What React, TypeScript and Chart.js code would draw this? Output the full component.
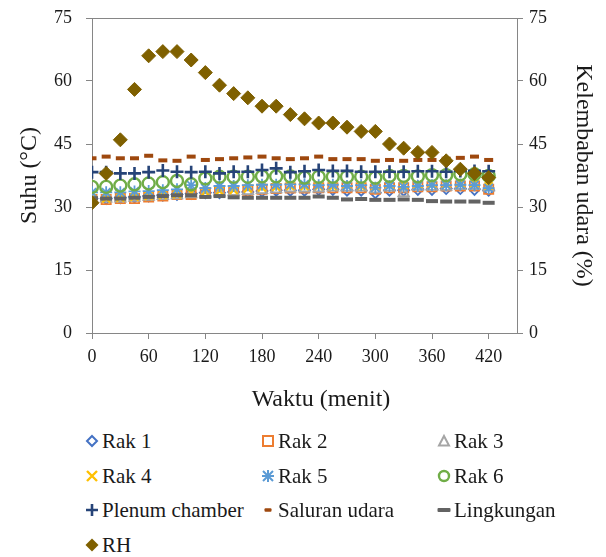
import React, { useEffect, useRef } from 'react';
import { Chart, registerables } from 'chart.js';

Chart.register(...registerables);

const TIME = [0, 15, 30, 45, 60, 75, 90, 105, 120, 135, 150, 165, 180, 195, 210, 225, 240, 255, 270, 285, 300, 315, 330, 345, 360, 375, 390, 405, 420];
const X_TICKS = [0, 60, 120, 180, 240, 300, 360, 420];
const Y_TICKS = [0, 15, 30, 45, 60, 75];

const RAK1 = [32.0, 32.0, 32.2, 32.4, 32.6, 32.8, 33.0, 33.2, 33.4, 33.4, 33.6, 33.6, 33.8, 34.0, 34.0, 34.0, 34.2, 34.2, 34.0, 34.0, 33.4, 34.0, 34.0, 34.2, 34.2, 34.4, 34.4, 34.2, 34.0];
const RAK2 = [31.8, 31.8, 32.0, 32.0, 32.4, 32.6, 33.0, 33.0, 33.4, 33.6, 33.8, 34.0, 34.2, 34.4, 34.5, 34.5, 34.6, 34.6, 34.6, 34.6, 34.2, 34.6, 34.6, 34.8, 34.8, 35.0, 35.0, 35.0, 34.2];
const RAK3 = [32.0, 32.0, 32.0, 32.2, 32.4, 32.6, 32.8, 33.0, 33.2, 33.4, 33.6, 33.8, 34.0, 34.2, 34.4, 34.4, 34.4, 34.6, 34.6, 34.6, 34.2, 34.6, 33.3, 34.8, 34.8, 34.8, 35.0, 35.0, 34.6];
const RAK4 = [32.0, 32.0, 32.2, 32.4, 32.6, 32.8, 33.0, 33.4, 33.6, 33.8, 34.0, 34.4, 34.6, 34.8, 35.0, 35.0, 35.0, 35.0, 35.2, 35.0, 34.8, 35.2, 35.2, 35.4, 35.4, 35.4, 35.6, 35.6, 35.0];
const RAK5 = [33.5, 33.5, 33.5, 33.7, 33.8, 34.0, 34.2, 35.2, 34.5, 35.0, 35.0, 35.2, 35.3, 35.3, 35.4, 35.4, 35.2, 35.3, 35.0, 35.2, 34.6, 35.0, 34.8, 35.0, 35.2, 35.2, 35.3, 35.2, 34.5];
const RAK6 = [34.8, 34.8, 35.1, 35.4, 35.6, 35.9, 36.2, 35.4, 36.8, 37.2, 37.2, 37.2, 37.3, 37.3, 37.3, 37.0, 37.2, 37.2, 37.2, 37.2, 37.0, 37.4, 37.4, 37.3, 37.6, 37.6, 37.8, 37.8, 37.4];
const PLENUM = [38.3, 38.3, 38.0, 38.0, 38.3, 38.7, 38.4, 38.3, 38.4, 38.0, 38.4, 38.4, 38.8, 39.2, 38.3, 38.5, 38.8, 38.6, 38.6, 38.4, 38.4, 38.4, 38.4, 38.5, 38.5, 38.4, 38.6, 38.6, 38.5];
const SALURAN = [41.6, 42.0, 41.6, 41.6, 42.2, 41.1, 41.0, 42.0, 41.2, 41.4, 41.6, 41.8, 42.0, 41.6, 41.4, 41.6, 42.0, 41.4, 41.4, 41.4, 41.0, 41.2, 41.0, 41.2, 41.2, 41.5, 41.7, 42.0, 41.2];
const LINGKUNGAN = [32.1, 32.0, 32.0, 32.2, 32.4, 32.6, 32.8, 32.8, 32.4, 32.6, 32.3, 32.2, 32.2, 32.2, 32.2, 32.2, 32.5, 32.2, 31.8, 31.9, 31.7, 31.7, 31.8, 31.7, 31.4, 31.3, 31.3, 31.3, 31.0];
const RH = [31, 38, 46, 58, 66, 67, 67, 65, 62, 59, 57, 56, 54, 54, 52, 51, 50, 50, 49, 48, 48, 45, 44, 43, 43, 41, 39, 38, 37];

const SERIES_NAMES = ['Rak 1', 'Rak 2', 'Rak 3', 'Rak 4', 'Rak 5', 'Rak 6', 'Plenum chamber', 'Saluran udara', 'Lingkungan', 'RH'];
const SERIES_VALUES = [RAK1, RAK2, RAK3, RAK4, RAK5, RAK6, PLENUM, SALURAN, LINGKUNGAN, RH];

const COLORS = ['#4472C4', '#ED7D31', '#A5A5A5', '#FFC000', '#5B9BD5', '#70AD47', '#264478', '#9E480E', '#636363', '#7F6000'];
const STYLES: any[] = [
  { pointStyle: 'rectRot', radius: 5.5, borderWidth: 1.8, fill: false },
  { pointStyle: 'rect', radius: 6.5, borderWidth: 1.8, fill: false },
  { pointStyle: 'triangle', radius: 6, borderWidth: 1.8, fill: false },
  { pointStyle: 'crossRot', radius: 5.5, borderWidth: 2.2, fill: false },
  { pointStyle: 'star', radius: 6, borderWidth: 1.8, fill: false },
  { pointStyle: 'circle', radius: 6, borderWidth: 2.4, fill: false },
  { pointStyle: 'cross', radius: 6.5, borderWidth: 2.6, fill: false },
  { pointStyle: 'line', radius: 4.5, borderWidth: 4, fill: false },
  { pointStyle: 'line', radius: 6, borderWidth: 4, fill: false },
  { pointStyle: 'rectRot', radius: 7, borderWidth: 1, fill: true },
];

const FONT = "'Liberation Serif', 'Times New Roman', serif";
const TEXT = '#1a1a1a';
const AXIS = '#868686';

const frame = {
  id: 'frame',
  afterDatasetsDraw(chart: any) {
    const { ctx, chartArea } = chart;
    ctx.save();
    ctx.strokeStyle = AXIS;
    ctx.lineWidth = 1;
    ctx.beginPath();
    ctx.moveTo(chartArea.left, chartArea.top + 0.5);
    ctx.lineTo(chartArea.right, chartArea.top + 0.5);
    ctx.stroke();
    ctx.restore();
  },
};

function LegendMarker({ i }: { i: number }) {
  const c = COLORS[i];
  const common = { width: 16, height: 16, viewBox: '0 0 16 16' } as any;
  switch (i) {
    case 0:
      return <svg {...common}><polygon points="8,3 13,8 8,13 3,8" fill="#fff" stroke={c} strokeWidth={2} /></svg>;
    case 1:
      return <svg {...common}><rect x={3} y={3} width={10} height={10} fill="#fff" stroke={c} strokeWidth={2} /></svg>;
    case 2:
      return <svg {...common}><polygon points="8,3 13,12.5 3,12.5" fill="#fff" stroke={c} strokeWidth={2} /></svg>;
    case 3:
      return <svg {...common}><path d="M3 3 L13 13 M13 3 L3 13" stroke={c} strokeWidth={2.4} /></svg>;
    case 4:
      return <svg {...common}><path d="M3 3 L13 13 M13 3 L3 13 M8 2 L8 14 M2 8 L14 8" stroke={c} strokeWidth={2} /></svg>;
    case 5:
      return <svg {...common}><circle cx={8} cy={8} r={5} fill="#fff" stroke={c} strokeWidth={2.4} /></svg>;
    case 6:
      return <svg {...common}><path d="M8 2 L8 14 M2 8 L14 8" stroke={c} strokeWidth={2.6} /></svg>;
    case 7:
      return <svg {...common}><rect x={4.5} y={6.2} width={7} height={3.6} rx={1} fill={c} /></svg>;
    case 8:
      return <svg {...common}><rect x={1.5} y={6} width={13} height={4} rx={1} fill={c} /></svg>;
    default:
      return <svg {...common}><polygon points="8,1.5 14.5,8 8,14.5 1.5,8" fill={c} /></svg>;
  }
}

export default function App() {
  const ref = useRef<HTMLCanvasElement | null>(null);

  useEffect(() => {
    if (!ref.current) return;
    const datasets = SERIES_NAMES.map((name, i) => ({
      label: name,
      data: TIME.map((t, k) => ({ x: t, y: SERIES_VALUES[i][k] })),
      yAxisID: i === 9 ? 'y1' : 'y',
      showLine: false,
      order: SERIES_NAMES.length - 1 - i,
      pointStyle: STYLES[i].pointStyle,
      pointRadius: STYLES[i].radius,
      pointBorderWidth: STYLES[i].borderWidth,
      pointBorderColor: COLORS[i],
      pointBackgroundColor: STYLES[i].fill ? COLORS[i] : 'rgba(255,255,255,0)',
      borderColor: COLORS[i],
      backgroundColor: COLORS[i],
    }));

    const tickFont = { family: FONT, size: 18 };
    const titleFont = { family: FONT, size: 24 };
    const grid = { display: true, drawOnChartArea: false, drawTicks: true, tickLength: 6, color: AXIS };
    const border = { display: true, color: AXIS, width: 1 };
    const fitV = (w: number) => (s: any) => { s.width = w; s.paddingTop = 0; s.paddingBottom = 0; };

    const chart = new Chart(ref.current, {
      type: 'scatter',
      data: { datasets },
      plugins: [frame],
      options: {
        animation: false,
        responsive: false,
        maintainAspectRatio: false,
        devicePixelRatio: 1,
        layout: { padding: { top: 18, left: 0, right: 0, bottom: 0 } },
        plugins: { legend: { display: false }, tooltip: { enabled: false } },
        scales: {
          x: {
            type: 'linear',
            position: 'bottom',
            min: 0,
            max: 450,
            afterBuildTicks: (s: any) => { s.ticks = X_TICKS.map((v) => ({ value: v })); },
            afterFit: (s: any) => { s.height = 87; s.paddingLeft = 0; s.paddingRight = 0; },
            ticks: { font: tickFont, color: TEXT, maxRotation: 0, autoSkip: false, padding: 7 },
            grid,
            border,
            title: { display: false },
          },
          y: {
            type: 'linear',
            position: 'left',
            min: 0,
            max: 75,
            afterBuildTicks: (s: any) => { s.ticks = Y_TICKS.map((v) => ({ value: v })); },
            afterFit: fitV(92),
            ticks: { font: tickFont, color: TEXT, padding: 14, autoSkip: false },
            grid,
            border,
            title: { display: true, text: 'Suhu (°C)', font: titleFont, color: TEXT, padding: { top: 15, bottom: 0 } },
          },
          y1: {
            type: 'linear',
            position: 'right',
            min: 0,
            max: 75,
            afterBuildTicks: (s: any) => { s.ticks = Y_TICKS.map((v) => ({ value: v })); },
            afterFit: fitV(89),
            ticks: { font: tickFont, color: TEXT, padding: 6, autoSkip: false },
            grid,
            border,
            title: { display: true, text: 'Kelembaban udara (%)', font: titleFont, color: TEXT, padding: { top: 8, bottom: 0 } },
          },
        },
      } as any,
    });
    return () => chart.destroy();
  }, []);

  return (
    <div style={{ position: 'absolute', left: 0, top: 0, width: 606, height: 557, background: '#fff', overflow: 'hidden' }}>
      <canvas ref={ref} width={606} height={420} style={{ position: 'absolute', left: 0, top: 0, width: 606, height: 420 }} />
      <div
        style={{
          position: 'absolute',
          left: 221,
          width: 200,
          top: 384,
          height: 28,
          lineHeight: '28px',
          textAlign: 'center',
          fontFamily: FONT,
          fontSize: 24,
          color: TEXT,
          whiteSpace: 'nowrap',
        }}
      >
        Waktu (menit)
      </div>
      {SERIES_NAMES.map((name, i) => {
        const col = i % 3;
        const row = Math.floor(i / 3);
        const cx = 92 + col * 176;
        const cy = 441 + row * 34.5;
        return (
          <div
            key={name}
            style={{
              position: 'absolute',
              left: cx - 8,
              top: cy - 12,
              height: 24,
              display: 'flex',
              alignItems: 'center',
              whiteSpace: 'nowrap',
              fontFamily: FONT,
              fontSize: 21,
              color: TEXT,
            }}
          >
            <LegendMarker i={i} />
            <span style={{ marginLeft: 2, lineHeight: '24px' }}>{name}</span>
          </div>
        );
      })}
    </div>
  );
}
